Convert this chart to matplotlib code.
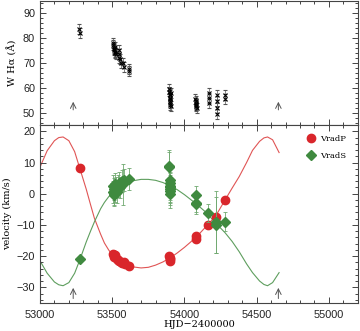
import numpy as np
import matplotlib
matplotlib.use("Agg")
import matplotlib.pyplot as plt
from matplotlib.ticker import MultipleLocator

# W H-alpha equivalent width (top panel)
w_jd = [53270, 53276,
        53505, 53508, 53510, 53512, 53515, 53518, 53520, 53522, 53525,
        53545, 53548, 53550, 53555, 53560, 53575, 53580, 53615, 53618,
        53895, 53896, 53897, 53898, 53899, 53900, 53901, 53902, 53903, 53904, 53905,
        54075, 54077, 54078, 54080, 54082, 54083, 54085,
        54168, 54168, 54168,
        54223, 54223, 54223, 54223,
        54283, 54283]
w_val = [83.5, 82.0,
         78.0, 77.0, 76.0, 75.5, 75.0, 74.5, 76.5, 74.0, 73.5,
         75.0, 73.5, 72.0, 71.5, 70.0, 70.0, 68.5, 67.5, 66.8,
         59.5, 58.5, 57.5, 57.0, 56.0, 55.5, 54.5, 54.0, 53.0, 52.5, 58.0,
         55.5, 54.5, 54.0, 53.5, 53.0, 52.5, 52.0,
         58.0, 56.0, 54.0,
         57.0, 54.5, 52.0, 49.5,
         57.0, 55.5]
w_err = 2.0

# primary radial velocities
p_jd = [53276, 53505, 53510, 53515, 53520, 53530, 53540, 53550, 53560, 53570,
        53580, 53590, 53615, 53895, 53898, 53900, 53902, 54078, 54082, 54166,
        54218, 54281]
p_val = [8.1, -19.3, -19.8, -20.3, -19.6, -20.8, -21.2, -21.6, -21.9, -22.3,
         -21.9, -22.5, -23.3, -20.0, -20.5, -21.0, -21.6, -13.6, -14.4, -10.0,
         -7.4, -2.0]
p_err = 0.6

# secondary radial velocities
s_jd = [53276, 53505, 53508, 53510, 53512, 53515, 53518, 53520, 53525, 53530,
        53540, 53545, 53555, 53565, 53575, 53585, 53615,
        53893, 53895, 53897, 53898, 53899, 53900, 53901, 53902, 53903,
        54078, 54080, 54082, 54166, 54215, 54220, 54281]
s_val = [-21.0, 2.5, 0.5, -0.5, 1.5, 0.0, 3.0, 1.0, 2.0, 0.5,
         2.5, 3.5, 2.0, 4.0, 3.0, 4.5, 4.8,
         9.0, 8.5, 4.3, 3.5, 2.5, 1.5, 0.8, 0.0, 2.0,
         -0.4, -2.9, -3.4, -6.2, -9.0, -10.0, -9.0]
s_err = [0.5, 3.5, 3.5, 3.5, 3.5, 3.5, 3.5, 3.5, 3.5, 3.5,
         3.5, 3.5, 3.5, 3.5, 6.5, 3.5, 3.5,
         5.0, 5.0, 4.5, 4.5, 4.5, 4.5, 4.5, 4.5, 4.5,
         3.0, 3.0, 3.0, 3.0, 10.0, 9.0, 3.0]

# orbital solution curves
fit_jd = [53000, 53050, 53100, 53130, 53160, 53200, 53240, 53276, 53320, 53350,
          53377, 53420, 53446, 53475, 53500, 53550, 53600, 53650, 53700, 53750,
          53800, 53850, 53900, 53950, 54000, 54080, 54150, 54218, 54281, 54330,
          54379, 54430, 54471, 54520, 54550, 54575, 54610, 54655]
fit_p = [8.5, 13.8, 17.0, 18.0, 18.2, 17.0, 13.5, 8.1, 1.5, -3.5,
         -7.9, -13.0, -15.8, -18.0, -19.6, -21.5, -22.9, -23.5, -23.8, -23.6,
         -22.9, -21.9, -20.6, -19.0, -17.2, -14.0, -10.5, -7.0, -2.0, 1.8,
         5.5, 10.0, 13.9, 16.8, 17.9, 18.2, 17.3, 13.2]
fit_s = [-21.5, -25.5, -28.3, -29.2, -29.5, -28.5, -25.5, -21.2, -15.5, -12.0,
         -9.0, -4.8, -2.8, -1.0, 0.3, 2.2, 3.4, 4.2, 4.6, 4.6,
         4.3, 3.6, 2.6, 1.3, -0.3, -3.2, -6.0, -9.5, -12.5, -15.3,
         -18.6, -22.5, -25.3, -28.0, -29.1, -29.5, -28.5, -25.3]

# periastron epochs marked with arrows
arrow_jd = [53230, 54650]

red = "#d9262b"
green = "#3f8a3f"
axcol = "#444444"
tickfont = dict(family="Liberation Sans", size=7.8)
labfont = dict(family="DejaVu Serif", size=7)

fig = plt.figure(figsize=(3.6, 3.31), dpi=100)
ax1 = fig.add_axes([0.111, 0.622, 0.883, 0.376])
ax2 = fig.add_axes([0.111, 0.085, 0.883, 0.537])

for ax in (ax1, ax2):
    ax.set_xlim(53000, 55200)
    ax.xaxis.set_major_locator(MultipleLocator(500))
    ax.xaxis.set_minor_locator(MultipleLocator(100))
    ax.yaxis.set_minor_locator(MultipleLocator(2))
    ax.tick_params(which="both", direction="in", top=True, right=True,
                   colors=axcol, labelcolor="#222222", width=0.7)
    ax.tick_params(which="major", length=4)
    ax.tick_params(which="minor", length=2)
    ax.tick_params(axis="x", pad=5)
    for s in ax.spines.values():
        s.set_color(axcol)
        s.set_linewidth(0.8)
    for lab in ax.get_xticklabels() + ax.get_yticklabels():
        lab.set_fontfamily(tickfont["family"])
        lab.set_fontsize(tickfont["size"])

# top panel
ax1.set_ylim(45, 95)
ax1.set_yticks([50, 60, 70, 80, 90])
ax1.tick_params(labelbottom=False)
ax1.errorbar(w_jd, w_val, yerr=w_err, fmt="x", color="black", ms=3,
             mew=0.8, ecolor="#555555", elinewidth=0.5, capsize=1.2, capthick=0.5)
for x in arrow_jd:
    ax1.annotate("", xy=(x, 55.5), xytext=(x, 50),
                 arrowprops=dict(arrowstyle="->", color="#555555", lw=0.7))
ax1.set_ylabel("W H\u03b1 (\u00c5)", **labfont, labelpad=4)

# bottom panel
ax2.set_ylim(-35, 22)
ax2.set_yticks([-30, -20, -10, 0, 10, 20])
ax2.plot(fit_jd, fit_p, color="#e05555", lw=0.8, zorder=1)
ax2.plot(fit_jd, fit_s, color="#5e9e5e", lw=0.8, zorder=1)
ax2.errorbar(p_jd, p_val, yerr=p_err, fmt="o", color=red, ms=6,
             ecolor="#e07070", elinewidth=0.5, capsize=1.2, capthick=0.5, zorder=2)
ax2.errorbar(s_jd, s_val, yerr=s_err, fmt="D", color=green, ms=5.5,
             ecolor="#6fa86f", elinewidth=0.6, capsize=1.5, capthick=0.6, zorder=3)
for x in arrow_jd:
    ax2.annotate("", xy=(x, -29.3), xytext=(x, -34.5),
                 arrowprops=dict(arrowstyle="->", color="#555555", lw=0.7))

hp, = ax2.plot([], [], "o", color=red, ms=6)
hs, = ax2.plot([], [], "D", color=green, ms=5.5)
ax2.legend([hp, hs], ["VradP", "VradS"], loc="upper right", frameon=False,
           prop=dict(family="DejaVu Serif", size=6), handletextpad=0.1,
           labelspacing=1.0, borderaxespad=0.6, bbox_to_anchor=(0.99, 0.99))

ax2.set_ylabel("velocity (km/s)", **labfont, labelpad=3)
ax2.set_xlabel("HJD\u22122400000", **labfont, labelpad=0)

fig.savefig("out.png", dpi=100)
